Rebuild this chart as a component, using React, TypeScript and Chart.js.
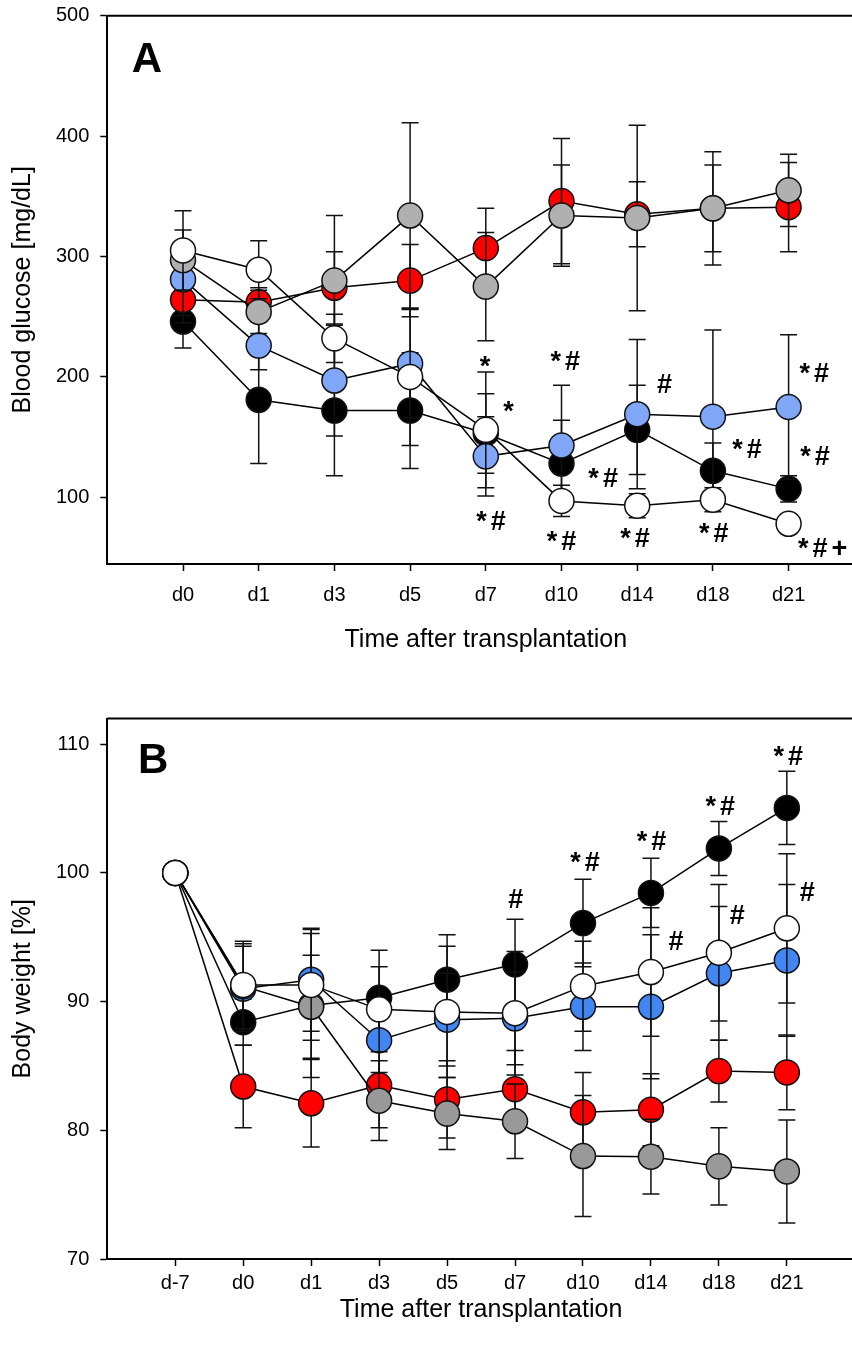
import React, { useEffect, useRef } from 'react';
import { Chart, registerables } from 'chart.js';

Chart.register(...registerables);

// ---------- Panel A: blood glucose ----------
const glucoseDays = ['d0', 'd1', 'd3', 'd5', 'd7', 'd10', 'd14', 'd18', 'd21'];
const glucoseTicks = [100, 200, 300, 400, 500];
const glucoseWhite = [305, 289, 232, 200, 156, 97, 93, 98, 78];
const glucoseWhiteSD = [33, 24, 20, 57, 48, 13, 10, 10, 8];
const glucoseGray = [297, 254, 280, 334, 275, 334, 332, 340, 355];
const glucoseGraySD = [25, 18, 54, 77, 45, 42, 77, 47, 30];
const glucoseBlue = [281, 226, 197, 211, 134, 143, 169, 167, 175];
const glucoseBlueSD = [30, 20, 46, 45, 33, 50, 62, 72, 60];
const glucoseRed = [264, 262, 274, 280, 307, 346, 335, 340, 341];
const glucoseRedSD = [19, 12, 30, 30, 33, 52, 27, 36, 37];
const glucoseBlack = [246, 181, 172, 172, 153, 128, 156, 122, 107];
const glucoseBlackSD = [22, 53, 54, 48, 33, 36, 37, 23, 11];
const glucoseMarkText = ['*', '*', '*#', '*#', '*#', '*#', '#', '*#', '*#', '*#', '*#', '*#', '*#+'];
const glucoseMarkX = [3.99, 4.3, 4.07, 5.05, 5.0, 5.55, 6.36, 5.97, 7.45, 7.01, 8.34, 8.35, 8.45];
const glucoseMarkY = [201.6, 164.2, 72.8, 205.8, 56.2, 108.8, 186.9, 58.9, 132.4, 63.1, 196.1, 126.8, 50.6];

// ---------- Panel B: body weight ----------
const weightDays = ['d-7', 'd0', 'd1', 'd3', 'd5', 'd7', 'd10', 'd14', 'd18', 'd21'];
const weightTicks = [70, 80, 90, 100, 110];
const weightWhite = [100, 91.3, 91.3, 89.4, 89.2, 89.1, 91.2, 92.3, 93.8, 95.7];
const weightWhiteSD = [0, 3.4, 4.3, 3.3, 5.1, 4.8, 3.5, 5.0, 5.3, 5.8];
const weightGray = [100, 91.2, 89.6, 82.3, 81.3, 80.7, 78.0, 77.95, 77.2, 76.8];
const weightGraySD = [0, 3.3, 4.0, 3.1, 2.8, 2.9, 4.7, 2.9, 3.0, 4.0];
const weightBlue = [100, 91.0, 91.7, 87.0, 88.6, 88.7, 89.6, 89.6, 92.2, 93.2];
const weightBlueSD = [0, 3.3, 4.0, 2.5, 3.6, 3.6, 3.4, 5.6, 5.2, 5.9];
const weightRed = [100, 83.4, 82.1, 83.5, 82.4, 83.2, 81.4, 81.6, 84.6, 84.5];
const weightRedSD = [0, 3.2, 3.4, 3.3, 3.0, 3.0, 3.1, 2.8, 2.4, 2.9];
const weightBlack = [100, 88.4, 89.7, 90.3, 91.7, 92.9, 96.1, 98.45, 101.9, 105.05];
const weightBlackSD = [0, 1.8, 5.6, 3.7, 3.5, 3.5, 3.4, 2.7, 2.1, 2.85];
const weightMarkText = ['#', '*#', '*#', '*#', '*#', '#', '#', '#'];
const weightMarkX = [5.01, 6.03, 7.01, 8.02, 9.02, 7.37, 8.27, 9.3];
const weightMarkY = [97.28, 100.12, 101.81, 104.53, 108.41, 94.04, 96.06, 97.8];

const FONT = "'Liberation Sans', Arial, Helvetica, sans-serif";

const errorBarPlugin = {
  id: 'errorBars',
  beforeDatasetDraw(chart: any, args: any) {
    const ds = chart.data.datasets[args.index];
    const errs: number[] = ds.errors;
    if (!errs) return;
    const xs = chart.scales.x;
    const ys = chart.scales.y;
    const ctx = chart.ctx;
    ctx.save();
    ctx.strokeStyle = '#111';
    ctx.lineWidth = 1.5;
    ds.data.forEach((p: any, i: number) => {
      const e = errs[i];
      if (!e) return;
      const px = xs.getPixelForValue(p.x);
      const yt = ys.getPixelForValue(p.y + e);
      const yb = ys.getPixelForValue(p.y - e);
      ctx.beginPath();
      ctx.moveTo(px, yt);
      ctx.lineTo(px, yb);
      ctx.moveTo(px - 8.5, yt);
      ctx.lineTo(px + 8.5, yt);
      ctx.moveTo(px - 8.5, yb);
      ctx.lineTo(px + 8.5, yb);
      ctx.stroke();
    });
    ctx.restore();
  },
};

const decorPlugin = {
  id: 'decor',
  afterDatasetsDraw(chart: any, _args: any, opts: any) {
    const ctx = chart.ctx;
    const { left, top, right, bottom } = chart.chartArea;
    const xs = chart.scales.x;
    const ys = chart.scales.y;
    ctx.save();
    // frame (top + right)
    ctx.strokeStyle = '#000';
    ctx.lineWidth = 2;
    ctx.beginPath();
    ctx.moveTo(left, top);
    ctx.lineTo(right, top);
    ctx.lineTo(right, bottom);
    ctx.stroke();
    // panel letter
    ctx.fillStyle = '#000';
    ctx.font = `bold 42px ${FONT}`;
    ctx.textAlign = 'left';
    ctx.textBaseline = 'alphabetic';
    ctx.fillText(opts.letter, left + opts.letterDx, top + opts.letterDy);
    // significance marks
    ctx.font = `bold 27px ${FONT}`;
    ctx.textAlign = 'center';
    try { (ctx as any).letterSpacing = '4px'; } catch (e) {}
    opts.texts.forEach((t: string, i: number) => {
      ctx.fillText(t, xs.getPixelForValue(opts.xs[i]) + 2, ys.getPixelForValue(opts.ys[i]));
    });
    ctx.restore();
  },
};

function makeDataset(values: number[], errors: number[], fill: string) {
  return {
    data: values.map((v, i) => ({ x: i, y: v })),
    errors,
    borderColor: '#000',
    borderWidth: 1.5,
    pointRadius: 12.5,
    pointHoverRadius: 12.5,
    pointBackgroundColor: fill,
    pointBorderColor: '#111',
    pointBorderWidth: 1.5,
    tension: 0,
    clip: false as any,
  };
}

function makeConfig(p: {
  days: string[];
  ticks: number[];
  yMin: number;
  yMax: number;
  xMax: number;
  yTitle: string;
  xAxisH: number;
  xTickPad: number;
  xTitlePad: number;
  padTop: number;
  padRight: number;
  datasets: any[];
  letter: string;
  letterDx: number;
  letterDy: number;
  marks: { texts: string[]; xs: number[]; ys: number[] };
}) {
  return {
    type: 'line' as const,
    data: { datasets: p.datasets },
    plugins: [errorBarPlugin, decorPlugin],
    options: {
      animation: false as const,
      responsive: false,
      events: [],
      layout: { padding: { top: p.padTop, right: p.padRight, left: 0, bottom: 0 } },
      plugins: {
        legend: { display: false },
        tooltip: { enabled: false },
        decor: { letter: p.letter, letterDx: p.letterDx, letterDy: p.letterDy, ...p.marks },
      },
      scales: {
        x: {
          type: 'linear' as const,
          min: -1,
          max: p.xMax,
          afterBuildTicks: (s: any) => {
            s.ticks = p.days.map((_, i) => ({ value: i }));
          },
          afterFit: (s: any) => {
            s.height = p.xAxisH;
            s.paddingLeft = 0;
            s.paddingRight = 0;
          },
          grid: { display: true, drawOnChartArea: false, drawTicks: true, tickLength: 7, tickWidth: 1.5, tickColor: '#000' },
          border: { display: true, color: '#000', width: 2 },
          ticks: {
            autoSkip: false,
            maxRotation: 0,
            color: '#000',
            padding: p.xTickPad,
            font: { family: FONT, size: 20 },
            callback: (v: any) => p.days[v] ?? '',
          },
          title: {
            display: true,
            text: 'Time after transplantation',
            color: '#000',
            font: { family: FONT, size: 25 },
            padding: { top: 0, bottom: p.xTitlePad },
          },
        },
        y: {
          type: 'linear' as const,
          min: p.yMin,
          max: p.yMax,
          afterBuildTicks: (s: any) => {
            s.ticks = p.ticks.map((v) => ({ value: v }));
          },
          afterFit: (s: any) => {
            s.width = 107.3;
            s.paddingTop = 0;
            s.paddingBottom = 0;
          },
          grid: { display: true, drawOnChartArea: false, drawTicks: true, tickLength: 7, tickWidth: 1.5, tickColor: '#000' },
          border: { display: true, color: '#000', width: 2 },
          ticks: { color: '#000', padding: 11, font: { family: FONT, size: 20 } },
          title: {
            display: true,
            text: p.yTitle,
            color: '#000',
            font: { family: FONT, size: 25 },
            padding: { top: 8.3, bottom: 0 },
          },
        },
      },
    },
  };
}

function Panel(props: { width: number; height: number; top: number; config: any }) {
  const ref = useRef<HTMLCanvasElement | null>(null);
  useEffect(() => {
    if (!ref.current) return;
    const chart = new Chart(ref.current, props.config);
    return () => chart.destroy();
  }, []);
  return (
    <canvas
      ref={ref}
      width={props.width}
      height={props.height}
      style={{ position: 'absolute', left: 0, top: props.top, width: props.width, height: props.height, display: 'block' }}
    />
  );
}

export default function App() {
  const configA = makeConfig({
    days: glucoseDays,
    ticks: glucoseTicks,
    yMin: 44.6,
    yMax: 500,
    xMax: 9,
    yTitle: 'Blood glucose [mg/dL]',
    xAxisH: 680 - 564,
    xTickPad: 12.8,
    xTitlePad: 24.4,
    padTop: 15.7,
    padRight: 880 - 864.3,
    letter: 'A',
    letterDx: 24.4,
    letterDy: 56,
    marks: { texts: glucoseMarkText, xs: glucoseMarkX, ys: glucoseMarkY },
    datasets: [
      makeDataset(glucoseWhite, glucoseWhiteSD, '#ffffff'),
      makeDataset(glucoseGray, glucoseGraySD, '#b0b0b0'),
      makeDataset(glucoseBlue, glucoseBlueSD, '#80a6f7'),
      makeDataset(glucoseRed, glucoseRedSD, '#ff0000'),
      makeDataset(glucoseBlack, glucoseBlackSD, '#000000'),
    ],
  });
  const configB = makeConfig({
    days: weightDays,
    ticks: weightTicks,
    yMin: 70,
    yMax: 112,
    xMax: 10,
    yTitle: 'Body weight [%]',
    xAxisH: 667 - 579,
    xTickPad: 5,
    xTitlePad: 22,
    padTop: 38.5,
    padRight: 880 - 854.8,
    letter: 'B',
    letterDx: 30.7,
    letterDy: 54.5,
    marks: { texts: weightMarkText, xs: weightMarkX, ys: weightMarkY },
    datasets: [
      makeDataset(weightWhite, weightWhiteSD, '#ffffff'),
      makeDataset(weightGray, weightGraySD, '#999999'),
      makeDataset(weightBlue, weightBlueSD, '#4286f4'),
      makeDataset(weightRed, weightRedSD, '#ff0000'),
      makeDataset(weightBlack, weightBlackSD, '#000000'),
    ],
  });
  return (
    <div style={{ position: 'absolute', left: 0, top: 0, width: 852, height: 1347, overflow: 'hidden', background: '#fff' }}>
      <Panel width={880} height={680} top={0} config={configA} />
      <Panel width={880} height={667} top={680} config={configB} />
    </div>
  );
}
